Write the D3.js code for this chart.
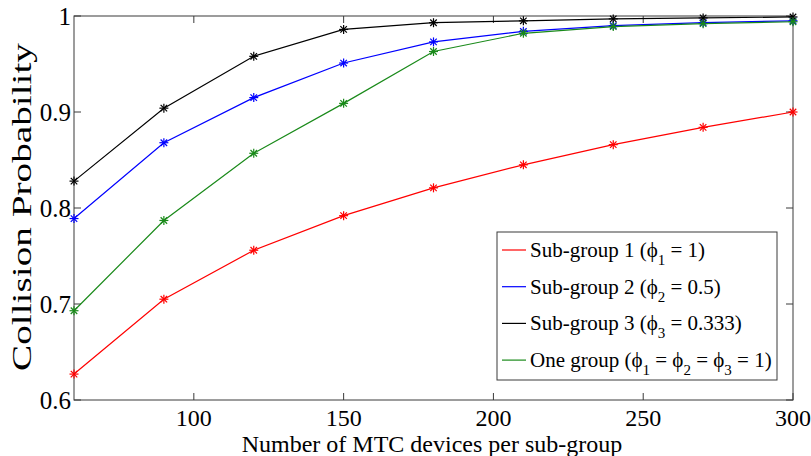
<!DOCTYPE html>
<html>
<head>
<meta charset="utf-8">
<script src="https://cdn.jsdelivr.net/npm/d3@7"></script>
<style>
  body { margin: 0; background: #fff; }
  svg { display: block; font-family: "Liberation Serif", "DejaVu Serif", serif; }
</style>
</head>
<body>
<div id="chart"></div>
<script>
// ---- data ----
const devices = [60, 90, 120, 150, 180, 210, 240, 270, 300];
const sub1 = [0.627, 0.705, 0.756, 0.792, 0.821, 0.845, 0.866, 0.884, 0.900];
const sub2 = [0.789, 0.868, 0.915, 0.951, 0.973, 0.984, 0.990, 0.993, 0.995];
const sub3 = [0.828, 0.904, 0.958, 0.986, 0.993, 0.995, 0.997, 0.998, 0.999];
const oneGroup = [0.693, 0.787, 0.857, 0.909, 0.963, 0.982, 0.989, 0.992, 0.994];
const xTicks = [100, 150, 200, 250, 300];
const yTicks = [0.6, 0.7, 0.8, 0.9, 1];
const yTickLabels = ["0.6", "0.7", "0.8", "0.9", "1"];

// legend text: [main, subscript] pieces
const series = [
  { values: sub1, color: "#ff0000",
    label: [["Sub-group 1 (ϕ"], ["1", true], [" = 1)"]] },
  { values: sub2, color: "#0000ff",
    label: [["Sub-group 2 (ϕ"], ["2", true], [" = 0.5)"]] },
  { values: sub3, color: "#000000",
    label: [["Sub-group 3 (ϕ"], ["3", true], [" = 0.333)"]] },
  { values: oneGroup, color: "#1a8a1a",
    label: [["One group (ϕ"], ["1", true], [" = ϕ"], ["2", true], [" = ϕ"], ["3", true], [" = 1)"]] }
];

const width = 811, height = 456;
const margin = { top: 16, right: 18, bottom: 56, left: 74 };
const innerW = width - margin.left - margin.right;
const innerH = height - margin.top - margin.bottom;

const svg = d3.select("#chart").append("svg")
  .attr("width", width).attr("height", height);
const g = svg.append("g").attr("transform", `translate(${margin.left},${margin.top})`);

const x = d3.scaleLinear().domain([60, 300]).range([0, innerW]);
const y = d3.scaleLinear().domain([0.6, 1]).range([innerH, 0]);

const axisColor = "#3a3a3a";
const tickLen = 7;

// box
g.append("rect")
  .attr("width", innerW).attr("height", innerH)
  .attr("fill", "none").attr("stroke", axisColor).attr("stroke-width", 1);

// x ticks (bottom labels, ticks inward on both sides)
xTicks.forEach(t => {
  g.append("line").attr("x1", x(t)).attr("x2", x(t))
    .attr("y1", innerH).attr("y2", innerH - tickLen).attr("stroke", axisColor);
  g.append("line").attr("x1", x(t)).attr("x2", x(t))
    .attr("y1", 0).attr("y2", tickLen).attr("stroke", axisColor);
  g.append("text")
    .attr("x", x(t)).attr("y", innerH + 26)
    .attr("text-anchor", "middle")
    .style("font-size", "24px")
    .text(t);
});

// y ticks
yTicks.forEach((t, i) => {
  g.append("line").attr("x1", 0).attr("x2", tickLen)
    .attr("y1", y(t)).attr("y2", y(t)).attr("stroke", axisColor);
  g.append("line").attr("x1", innerW).attr("x2", innerW - tickLen)
    .attr("y1", y(t)).attr("y2", y(t)).attr("stroke", axisColor);
  g.append("text")
    .attr("x", -3).attr("y", y(t) + 9)
    .attr("text-anchor", "end")
    .style("font-size", "25px")
    .text(yTickLabels[i]);
});

// axis labels
svg.append("text")
  .attr("x", 432).attr("y", 452)
  .attr("text-anchor", "middle")
  .style("font-size", "24px")
  .text("Number of MTC devices per sub-group");

svg.append("text")
  .attr("transform", "translate(31,207) rotate(-90)")
  .attr("text-anchor", "middle")
  .attr("textLength", 328)
  .attr("lengthAdjust", "spacingAndGlyphs")
  .style("font-size", "27px")
  .text("Collision Probability");

// lines + asterisk markers
const line = d3.line().x((d, i) => x(devices[i])).y(d => y(d));
const r = 4.5;

series.forEach(s => {
  g.append("path")
    .datum(s.values)
    .attr("d", line)
    .attr("fill", "none")
    .attr("stroke", s.color)
    .attr("stroke-width", 1.2);

  const m = g.append("g").selectAll("g")
    .data(s.values)
    .enter().append("g")
    .attr("transform", (d, i) => `translate(${x(devices[i])},${y(d)})`)
    .attr("stroke", s.color)
    .attr("stroke-width", 1.2);
  m.append("line").attr("x1", -r).attr("x2", r).attr("y1", 0).attr("y2", 0);
  m.append("line").attr("x1", 0).attr("x2", 0).attr("y1", -r).attr("y2", r);
  m.append("line").attr("x1", -r * 0.72).attr("x2", r * 0.72).attr("y1", -r * 0.72).attr("y2", r * 0.72);
  m.append("line").attr("x1", -r * 0.72).attr("x2", r * 0.72).attr("y1", r * 0.72).attr("y2", -r * 0.72);
});

// legend
const lg = svg.append("g").attr("transform", "translate(497,232)");
lg.append("rect")
  .attr("width", 280).attr("height", 148)
  .attr("fill", "#fff").attr("stroke", axisColor).attr("stroke-width", 1);

series.forEach((s, i) => {
  const cy = 18 + i * 36.7;
  lg.append("line")
    .attr("x1", 5).attr("x2", 29)
    .attr("y1", cy).attr("y2", cy)
    .attr("stroke", s.color).attr("stroke-width", 1.2);
  const txt = lg.append("text")
    .attr("x", 33).attr("y", cy + 7)
    .style("font-size", "21px");
  s.label.forEach(([str, isSub], j) => {
    const ts = txt.append("tspan").text(str);
    if (isSub) {
      ts.style("font-size", "15px").attr("dy", 8);
    } else if (j > 0 && s.label[j - 1][1]) {
      ts.attr("dy", -8);
    }
  });
});
</script>
</body>
</html>
